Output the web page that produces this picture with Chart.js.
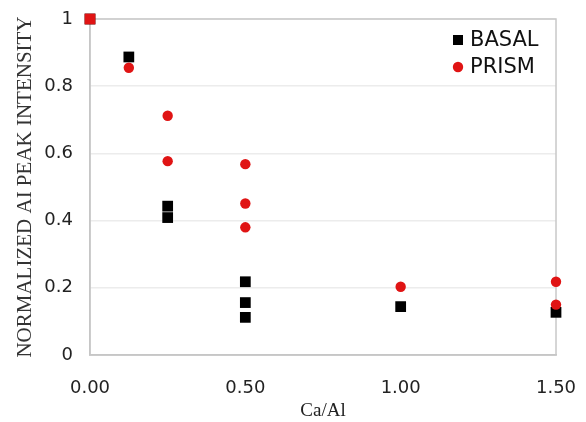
<!DOCTYPE html>
<html>
<head>
<meta charset="utf-8">
<script src="https://cdn.jsdelivr.net/npm/chart.js@4/dist/chart.umd.min.js"></script>
<style>
  html, body { margin: 0; padding: 0; background: #fff; }
  #wrap { width: 586px; height: 422px; position: relative; }
</style>
</head>
<body>
<div id="wrap"><canvas id="c" width="586" height="422"></canvas></div>
<script>
// Data
const basalX = [0, 0.125, 0.25, 0.25, 0.5, 0.5, 0.5, 1.0, 1.5];
const basalY = [1.0, 0.887, 0.443, 0.409, 0.218, 0.156, 0.112, 0.144, 0.127];
const prismX = [0, 0.125, 0.25, 0.25, 0.5, 0.5, 0.5, 1.0, 1.5, 1.5];
const prismY = [1.0, 0.855, 0.712, 0.577, 0.568, 0.451, 0.380, 0.203, 0.218, 0.150];
const xTicks = [0, 0.5, 1.0, 1.5];
const yTicks = [0, 0.2, 0.4, 0.6, 0.8, 1];
const seriesNames = ['BASAL', 'PRISM'];
const xTitle = 'Ca/Al';
const yTitle = 'NORMALIZED AI PEAK INTENSITY';

const RED = '#e01414';
const BLACK = '#000000';

const toPts = (xs, ys) => xs.map((x, i) => ({ x: x, y: ys[i] }));

const borderPlugin = {
  id: 'plotBorder',
  beforeDatasetsDraw(chart) {
    const a = chart.chartArea, ctx = chart.ctx;
    ctx.save();
    ctx.strokeStyle = '#c8c8c8';
    ctx.lineWidth = 1.5;
    ctx.strokeRect(a.left, a.top, a.right - a.left, a.bottom - a.top);
    ctx.restore();
  }
};

const legendPlugin = {
  id: 'insideLegend',
  afterDraw(chart) {
    const ctx = chart.ctx;
    const items = [
      { ds: chart.data.datasets[1], y: 40 },
      { ds: chart.data.datasets[0], y: 67 }
    ];
    ctx.save();
    ctx.font = '21px "DejaVu Sans"';
    ctx.textBaseline = 'middle';
    ctx.textAlign = 'left';
    items.forEach(it => {
      const mx = 458;
      ctx.fillStyle = it.ds.backgroundColor;
      if (it.ds.legendStyle === 'rect') {
        ctx.fillRect(mx - 5, it.y - 5, 10, 10);
      } else {
        ctx.beginPath();
        ctx.arc(mx, it.y, 5.2, 0, Math.PI * 2);
        ctx.fill();
      }
      ctx.fillStyle = '#111';
      ctx.fillText(it.ds.label, 470, it.y + 1);
    });
    ctx.restore();
  }
};

new Chart(document.getElementById('c'), {
  type: 'scatter',
  data: {
    datasets: [
      {
        label: seriesNames[1],
        data: toPts(prismX, prismY),
        backgroundColor: RED,
        borderColor: RED,
        borderWidth: 0,
        pointStyle: prismX.map((x, i) => i === 0 ? 'rect' : 'circle'),
        pointRadius: prismX.map((x, i) => i === 0 ? 7.6 : 5.2),
        legendStyle: 'circle',
        clip: false,
        order: 0
      },
      {
        label: seriesNames[0],
        data: toPts(basalX, basalY),
        backgroundColor: BLACK,
        borderColor: BLACK,
        borderWidth: 0,
        pointStyle: 'rect',
        pointRadius: 7.6,
        legendStyle: 'rect',
        clip: false,
        order: 1
      }
    ]
  },
  options: {
    responsive: false,
    animation: false,
    devicePixelRatio: 1,
    layout: { padding: { top: 19, right: 30, left: 0, bottom: 0 } },
    plugins: {
      legend: { display: false },
      tooltip: { enabled: false }
    },
    scales: {
      x: {
        type: 'linear',
        min: 0, max: 1.5,
        afterBuildTicks(scale) { scale.ticks = xTicks.map(v => ({ value: v })); },
        afterFit(scale) {
          scale.height = 67;
          scale.paddingLeft = 0; scale.paddingRight = 0;
          scale.paddingTop = 0; scale.paddingBottom = 0;
        },
        grid: { display: true, drawOnChartArea: false, drawTicks: false },
        border: { display: true, color: '#c0c0c0', width: 1.5 },
        ticks: {
          padding: 23,
          color: '#222',
          font: { family: 'DejaVu Sans', size: 18 },
          callback: v => Number(v).toFixed(2),
          maxRotation: 0
        },
        title: {
          display: true,
          text: xTitle,
          color: '#222',
          font: { family: 'Liberation Serif', size: 19 },
          padding: { top: 0, bottom: 0 }
        }
      },
      y: {
        type: 'linear',
        min: 0, max: 1,
        afterBuildTicks(scale) { scale.ticks = yTicks.map(v => ({ value: v })); },
        afterFit(scale) {
          scale.width = 90;
          scale.paddingLeft = 0; scale.paddingRight = 0;
          scale.paddingTop = 0; scale.paddingBottom = 0;
        },
        grid: { color: '#ececec', lineWidth: 1.5, drawTicks: false },
        border: { display: true, color: '#c0c0c0', width: 1.5 },
        ticks: {
          padding: 17,
          color: '#222',
          font: { family: 'DejaVu Sans', size: 18 },
          callback: v => String(Number(v))
        },
        title: {
          display: true,
          text: yTitle,
          color: '#333',
          font: { family: 'Liberation Serif', size: 21 },
          padding: { top: 13, bottom: 0 }
        }
      }
    }
  },
  plugins: [borderPlugin, legendPlugin]
});
</script>
</body>
</html>
